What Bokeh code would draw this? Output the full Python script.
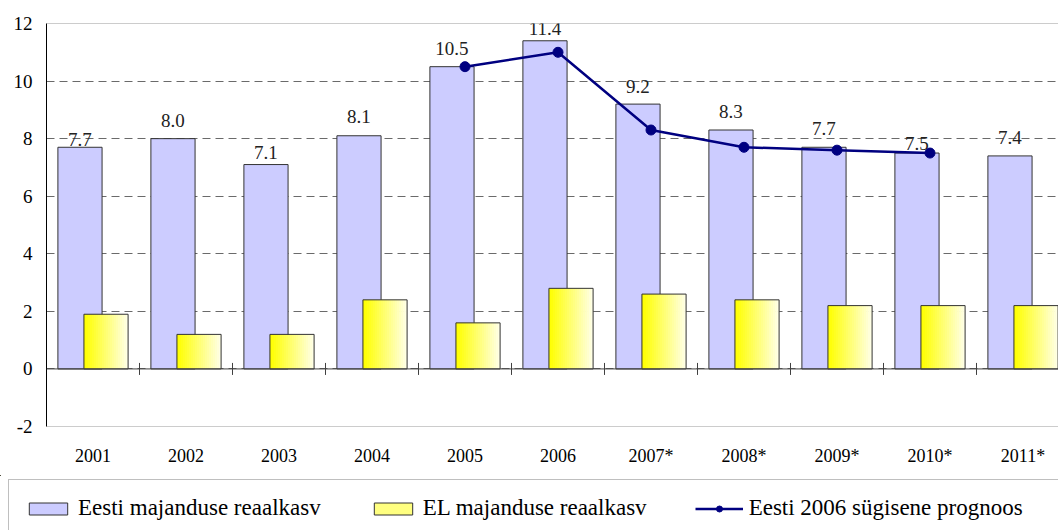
from bokeh.plotting import figure
from bokeh.models import (ColumnDataSource, FixedTicker, Legend, LegendItem, Span)
from bokeh.layouts import column
from bokeh.core.properties import value
from bokeh.embed import file_html
from bokeh.resources import INLINE
import math

years = ["2001", "2002", "2003", "2004", "2005", "2006", "2007*", "2008*", "2009*", "2010*", "2011*"]
eesti = [7.7, 8.0, 7.1, 8.1, 10.5, 11.4, 9.2, 8.3, 7.7, 7.5, 7.4]
el = [1.9, 1.2, 1.2, 2.4, 1.6, 2.8, 2.6, 2.4, 2.2, 2.2, 2.2]
prog_idx = [4, 5, 6, 7, 8, 9]
prognoos = [10.5, 11.0, 8.3, 7.7, 7.6, 7.5]
label_gap = [8, 18, 12, 19, 18, 12, 18, 19, 19, 10, 18]
y_ticks = [-2, 0, 2, 4, 6, 8, 10, 12]
series_names = ["Eesti majanduse reaalkasv", "EL majanduse reaalkasv", "Eesti 2006 sügisene prognoos"]

FONT = "Liberation Serif"
BLUE = "#CCCCFF"
NAVY = "#000080"
BW = 0.475
OFF = 0.14

W = 1058
H1, H2 = 475, 55
LEFT, TOP, BOTTOM = 46, 23, 49

n = len(years)
xs = list(range(n))

src_b = ColumnDataSource(dict(x=[i - OFF for i in xs], top=eesti))
src_y = ColumnDataSource(dict(x=[i + OFF for i in xs], top=el))
src_l = ColumnDataSource(dict(x=prog_idx, y=prognoos))

p = figure(width=W, height=H1, output_backend="svg", toolbar_location=None,
           x_range=(-0.5, -0.5 + (W - LEFT) / 93.0), y_range=(-2, 12),
           min_border_left=LEFT, min_border_right=0, min_border_top=TOP, min_border_bottom=BOTTOM)
p.frame_align = False
p.outline_line_color = None
p.background_fill_color = "white"
p.border_fill_color = "white"

for yy in (12, -2):
    p.add_layout(Span(location=yy, dimension="width", line_color="#9a9a9a", line_width=1, level="image"))

p.ygrid.grid_line_color = "#6a6a6a"
p.ygrid.grid_line_dash = "8 5"
p.ygrid.grid_line_width = 1
p.xgrid.grid_line_color = None

p.yaxis.ticker = FixedTicker(ticks=y_ticks)
p.yaxis.major_label_overrides = {t: str(t) for t in y_ticks}
p.yaxis.axis_line_color = "black"
p.yaxis.axis_line_width = 1
p.yaxis.major_tick_out = 0
p.yaxis.major_tick_in = 0
p.yaxis.minor_tick_line_color = None
p.yaxis.major_label_standoff = 14
p.yaxis.major_label_text_font = FONT
p.yaxis.major_label_text_font_size = "19px"
p.yaxis.major_label_text_color = "black"

p.xaxis.ticker = FixedTicker(ticks=xs)
p.xaxis.major_label_overrides = {i: y for i, y in enumerate(years)}
p.xaxis.axis_line_color = None
p.xaxis.major_tick_line_color = None
p.xaxis.major_tick_out = 0
p.xaxis.minor_tick_line_color = None
p.xaxis.major_label_standoff = 19
p.xaxis.major_label_text_font = FONT
p.xaxis.major_label_text_font_size = "18px"
p.xaxis.major_label_text_color = "black"

# blue bars
p.vbar(x="x", top="top", bottom=0, width=BW, source=src_b,
       fill_color=BLUE, line_color="#333333", line_width=1)

# yellow bars with horizontal gradient (slices) + outline
NS = 22
for k in range(NS):
    t = k / (NS - 1)
    b = int(round(228 * t))
    col = "#FFFF%02X" % b
    sx = [i + OFF - BW / 2 + (k + 0.5) * BW / NS for i in xs]
    p.vbar(x=sx, top=el, bottom=0, width=BW / NS * 1.05, fill_color=col, line_color=None)
p.vbar(x="x", top="top", bottom=0, width=BW, source=src_y,
       fill_color=None, line_color="#333333", line_width=1)

# zero line and category boundary ticks
p.add_layout(Span(location=0, dimension="width", line_color="#404040", line_width=1))
p.scatter(x=[i + 0.5 for i in xs[:-1]], y=[0] * (n - 1), marker="dash", size=12,
          angle=math.pi / 2, line_color="#404040", line_width=1)

# forecast line
p.line(x="x", y="y", source=src_l, line_color=NAVY, line_width=2.5)
p.scatter(x="x", y="y", source=src_l, size=10, fill_color=NAVY, line_color=NAVY)

# value labels
src_t = ColumnDataSource(dict(x=[i - OFF for i in xs], y=eesti,
                              txt=["%.1f" % v for v in eesti],
                              dy=[-g for g in label_gap]))
p.text(x="x", y="y", text="txt", y_offset="dy", source=src_t,
       text_font=value(FONT), text_font_size=value("19px"), text_color="#222222",
       text_align="center", text_baseline="alphabetic")

# ---- legend strip (second figure, same data; glyphs kept out of view) ----
p2 = figure(width=W, height=H2, output_backend="svg", toolbar_location=None,
            x_axis_location=None, y_axis_location=None,
            x_range=(1000, 1001), y_range=(-1000, -999),
            min_border=0, min_border_left=0, min_border_right=0, min_border_top=0, min_border_bottom=0)
p2.frame_align = False
p2.grid.visible = False
p2.outline_line_color = None
p2.background_fill_color = "white"
p2.border_fill_color = "white"

lb = p2.vbar(x="x", top="top", bottom=0, width=BW, source=src_b,
             fill_color=BLUE, line_color="#333333", line_width=1)
ly = p2.vbar(x="x", top="top", bottom=0, width=BW, source=src_y,
             fill_color="#FFFF80", line_color="#333333", line_width=1)
ll = p2.line(x="x", y="y", source=src_l, line_color=NAVY, line_width=2.5)
lp = p2.scatter(x="x", y="y", source=src_l, size=10, fill_color=NAVY, line_color=NAVY)
lspace = p2.scatter(x="x", y="y", source=src_l, size=1, fill_alpha=0, line_alpha=0)

legend = Legend(items=[
    LegendItem(label=series_names[0], renderers=[lb]),
    LegendItem(label=series_names[1], renderers=[ly]),
    LegendItem(label=series_names[2], renderers=[ll, lp]),
    LegendItem(label=" ", renderers=[lspace]),
], orientation="horizontal", location=(8, -7))
legend.label_text_font = FONT
legend.label_text_font_size = "23px"
legend.label_text_color = "black"
legend.glyph_width = 48
legend.glyph_height = 15
legend.label_standoff = 6
legend.spacing = 48
legend.padding = 15
legend.margin = 0
legend.border_line_color = "#808080"
legend.border_line_width = 1.5
legend.background_fill_color = "white"
legend.background_fill_alpha = 1
p2.add_layout(legend, "center")

layout = column(p, p2, spacing=0)
open("out.html", "w").write(file_html(layout, INLINE))
